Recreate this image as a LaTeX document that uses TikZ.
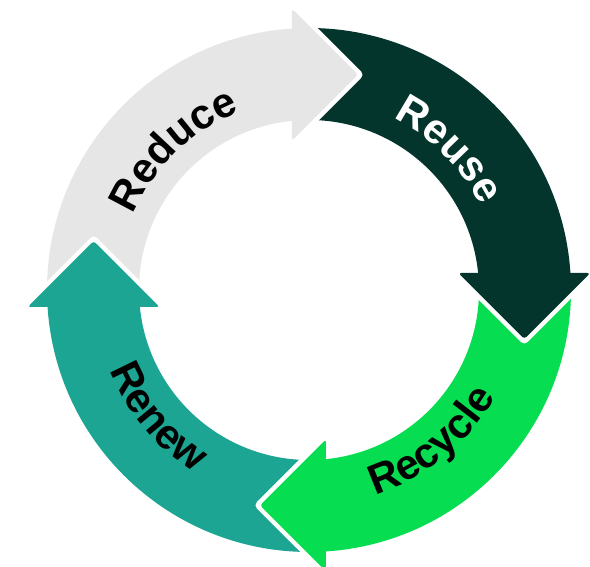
\documentclass[tikz,border=0pt]{standalone}
\usepackage{fontspec}
\setmainfont{Liberation Sans}
\usetikzlibrary{decorations.text}
\definecolor{reducegrey}{HTML}{E6E6E6}
\definecolor{reusegreen}{HTML}{03352C}
\definecolor{recyclegreen}{HTML}{07DD50}
\definecolor{renewteal}{HTML}{1CA592}
\newcommand{\cyclefont}{\fontsize{42}{42}\selectfont\bfseries}

\begin{document}
\begin{tikzpicture}[x=1pt,y=1pt,
    arrowhead/.style={fill=#1, rounded corners=3pt},
    headgap/.style={draw=white, line width=9pt, line join=round},
    cycletext/.style={decorate, decoration={text along path, text align=center, text={#1}}}]
  \useasboundingbox (-309,-277) rectangle (281,290);
  % ring pieces, one per step
  \foreach \rot/\col in {0/reducegrey, -90/reusegreen, -180/recyclegreen, -270/renewteal}
    \fill[rotate=\rot, fill=\col] (182.7:262) arc[start angle=182.7, end angle=92.7, radius=262]
      -- (94.7:170) arc[start angle=94.7, end angle=184.7, radius=170] -- cycle;
  % heads go over the next piece
  \foreach \rot/\col in {0/reducegrey, -90/reusegreen, -180/recyclegreen, -270/renewteal}{
    \draw[rotate=\rot, headgap] (-17,281.3) -- (49,215.3) -- (-17,149.3);
    \fill[rotate=\rot, arrowhead=\col] (-17,281.3) -- (49,215.3) -- (-17,149.3) -- cycle;
  }
  % labels
  \path[cycletext={|\cyclefont|Reduce}] (179:191) arc[start angle=179, end angle=89, radius=191];
  \path[cycletext={|\color{white}\cyclefont|Reuse}] (90:191) arc[start angle=90, end angle=0, radius=191];
  \path[cycletext={|\cyclefont|Recycle}] (-96:215) arc[start angle=-96, end angle=-6, radius=215];
  \path[cycletext={|\cyclefont|Renew}] (-185:215) arc[start angle=-185, end angle=-95, radius=215];
\end{tikzpicture}
\end{document}
